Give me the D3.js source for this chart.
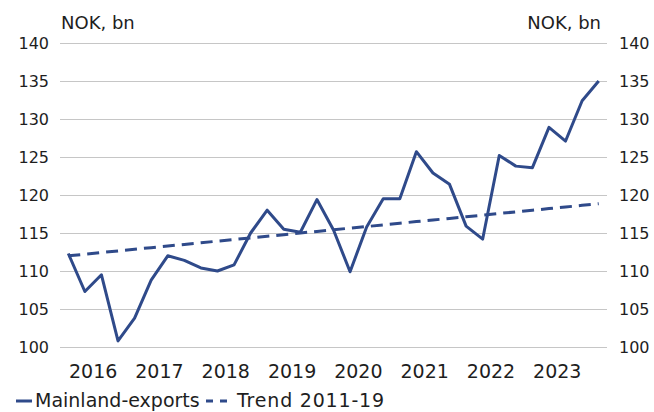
<!DOCTYPE html>
<html>
<head>
<meta charset="utf-8">
<script src="https://cdn.jsdelivr.net/npm/d3@7"></script>
<style>
  html, body { margin: 0; padding: 0; background: #fff; }
  svg { display: block; font-family: "DejaVu Sans", sans-serif; }
</style>
</head>
<body>
<svg id="chart" width="654" height="412"></svg>
<script>
// ---- data ----
const quarters = ["2015Q4",
  "2016Q1","2016Q2","2016Q3","2016Q4",
  "2017Q1","2017Q2","2017Q3","2017Q4",
  "2018Q1","2018Q2","2018Q3","2018Q4",
  "2019Q1","2019Q2","2019Q3","2019Q4",
  "2020Q1","2020Q2","2020Q3","2020Q4",
  "2021Q1","2021Q2","2021Q3","2021Q4",
  "2022Q1","2022Q2","2022Q3","2022Q4",
  "2023Q1","2023Q2","2023Q3","2023Q4"];
const mainlandExports = [112.3,
  107.3, 109.5, 100.8, 103.8,
  108.8, 112.0, 111.4, 110.4,
  110.0, 110.8, 115.0, 118.0,
  115.5, 115.1, 119.4, 115.4,
  109.9, 115.8, 119.5, 119.5,
  125.7, 122.9, 121.4, 115.9,
  114.2, 125.2, 123.8, 123.6,
  128.9, 127.1, 132.4, 135.0];
const trend2011_19 = [112.00,
  112.21, 112.43, 112.64, 112.86,
  113.07, 113.28, 113.50, 113.71,
  113.93, 114.14, 114.35, 114.57,
  114.78, 115.00, 115.21, 115.43,
  115.64, 115.85, 116.07, 116.28,
  116.50, 116.71, 116.92, 117.14,
  117.35, 117.57, 117.78, 117.99,
  118.21, 118.42, 118.64, 118.85];
const yearLabels = ["2016","2017","2018","2019","2020","2021","2022","2023"];
const yTicks = [100, 105, 110, 115, 120, 125, 130, 135, 140];
const unitLabel = "NOK, bn";
const seriesNames = ["Mainland-exports", "Trend 2011-19"];

// ---- layout ----
const svg = d3.select("#chart");
const plotL = 60, plotR = 607, plotT = 43, plotB = 347;
const lineColor = "#2f4a8a";
const textColor = "#1e1e1e";

const x = d3.scaleBand().domain(quarters).range([plotL, plotR]).padding(0);
const bw = x.bandwidth();
const cx = q => x(q) + bw / 2;
const y = d3.scaleLinear().domain([100, 140]).range([plotB, plotT]);

// gridlines
const grid = svg.append("g")
  .attr("transform", `translate(${plotL},0)`)
  .call(d3.axisLeft(y).tickValues(yTicks).tickSize(-(plotR - plotL)).tickFormat(""));
grid.select(".domain").remove();
grid.selectAll(".tick line").attr("stroke", "#c6c6c6").attr("stroke-width", 1);

// left axis labels
const yl = svg.append("g")
  .attr("transform", `translate(${plotL - 11},0)`)
  .call(d3.axisLeft(y).tickValues(yTicks).tickSize(0).tickPadding(0));
yl.select(".domain").remove();
yl.selectAll("text").attr("font-size", 16).attr("fill", textColor)
  .attr("font-family", "DejaVu Sans, sans-serif");

// right axis labels
const yr = svg.append("g")
  .attr("transform", `translate(${plotR + 12},0)`)
  .call(d3.axisRight(y).tickValues(yTicks).tickSize(0).tickPadding(0));
yr.select(".domain").remove();
yr.selectAll("text").attr("font-size", 16).attr("fill", textColor)
  .attr("font-family", "DejaVu Sans, sans-serif");

// x axis labels (year label between Q1 and Q2)
const xa = svg.append("g")
  .attr("transform", `translate(${-bw / 2},${plotB + 31})`)
  .call(d3.axisBottom(x)
    .tickValues(yearLabels.map(yy => yy + "Q2"))
    .tickFormat(d => d.slice(0, 4))
    .tickSize(0).tickPadding(0));
xa.select(".domain").remove();
xa.selectAll("text").attr("font-size", 19).attr("fill", textColor)
  .attr("dy", 0).attr("font-family", "DejaVu Sans, sans-serif");

// unit labels
svg.append("text").attr("x", 61).attr("y", 29).attr("font-size", 18)
  .attr("fill", textColor).text(unitLabel);
svg.append("text").attr("x", 601).attr("y", 29).attr("font-size", 18)
  .attr("text-anchor", "end").attr("fill", textColor).text(unitLabel);

// lines
const line = d3.line().x((d, i) => cx(quarters[i])).y(d => y(d));
svg.append("path").datum(trend2011_19)
  .attr("d", line).attr("fill", "none").attr("stroke", lineColor)
  .attr("stroke-width", 3).attr("stroke-dasharray", "12,7");
svg.append("path").datum(mainlandExports)
  .attr("d", line).attr("fill", "none").attr("stroke", lineColor)
  .attr("stroke-width", 3).attr("stroke-linejoin", "round");

// legend
const lg = svg.append("g");
lg.append("line").attr("x1", 16).attr("x2", 32).attr("y1", 401).attr("y2", 401)
  .attr("stroke", lineColor).attr("stroke-width", 3);
lg.append("text").attr("x", 35).attr("y", 407).attr("font-size", 19)
  .attr("fill", textColor).text(seriesNames[0]);
lg.append("line").attr("x1", 206).attr("x2", 234).attr("y1", 401).attr("y2", 401)
  .attr("stroke", lineColor).attr("stroke-width", 3).attr("stroke-dasharray", "7,7");
lg.append("text").attr("x", 237).attr("y", 407).attr("font-size", 19)
  .attr("letter-spacing", 0.8)
  .attr("fill", textColor).text(seriesNames[1]);
</script>
</body>
</html>
